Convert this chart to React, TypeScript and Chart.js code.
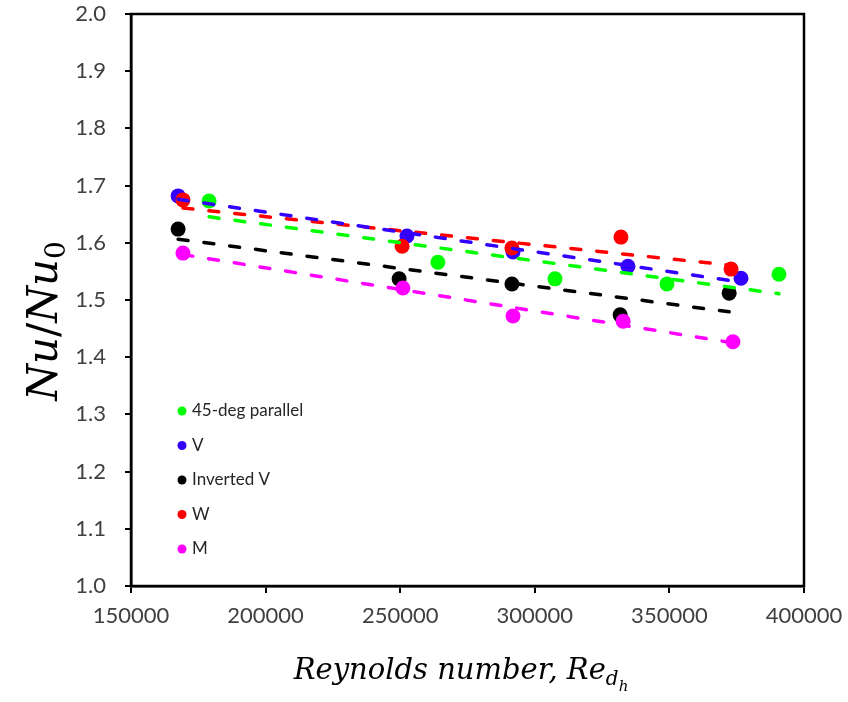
import { useEffect, useRef } from 'react';
import { Chart, registerables } from 'chart.js';

Chart.register(...registerables);

// Series labels (legend order) and colours
const seriesLabels = ['45-deg parallel', 'V', 'Inverted V', 'W', 'M'];
const seriesColors = ['#00FF00', '#3300FF', '#000000', '#FF0000', '#FF00FF'];

// Reynolds number (x) and Nu/Nu0 (y) for each rib arrangement
const reParallel = [179000, 264000, 307500, 349100, 390700];
const nuParallel = [1.673, 1.566, 1.537, 1.528, 1.545];

const reV = [167500, 252500, 291900, 334600, 376600];
const nuV = [1.682, 1.612, 1.584, 1.559, 1.538];

const reInvertedV = [167500, 249600, 291500, 331700, 372200];
const nuInvertedV = [1.624, 1.537, 1.528, 1.474, 1.512];

const reW = [169300, 250700, 291500, 332000, 372900];
const nuW = [1.675, 1.594, 1.591, 1.610, 1.554];

const reM = [169300, 251000, 291900, 332800, 373600];
const nuM = [1.582, 1.521, 1.472, 1.463, 1.427];

// Axis ticks
const xTicks = [150000, 200000, 250000, 300000, 350000, 400000];
const yTicks = [1.0, 1.1, 1.2, 1.3, 1.4, 1.5, 1.6, 1.7, 1.8, 1.9, 2.0];

const seriesRe = [reParallel, reV, reInvertedV, reW, reM];
const seriesNu = [nuParallel, nuV, nuInvertedV, nuW, nuM];

// Draw order of the markers: later series sit on top
const markerOrder = [5, 4, 3, 2, 1];

// Least-squares straight line through a series, spanning its Re range
function linearTrend(xs: number[], ys: number[]) {
  const n = xs.length;
  const mx = xs.reduce((a, b) => a + b, 0) / n;
  const my = ys.reduce((a, b) => a + b, 0) / n;
  let sxy = 0;
  let sxx = 0;
  for (let i = 0; i < n; i++) {
    sxy += (xs[i] - mx) * (ys[i] - my);
    sxx += (xs[i] - mx) * (xs[i] - mx);
  }
  const slope = sxy / sxx;
  const x0 = Math.min(...xs);
  const x1 = Math.max(...xs);
  return [
    { x: x0, y: my + slope * (x0 - mx) },
    { x: x1, y: my + slope * (x1 - mx) },
  ];
}

type Seg = { text: string; italic: boolean; size: number; dy: number };

function drawRich(ctx: CanvasRenderingContext2D, segs: Seg[], family: string) {
  const fontOf = (s: Seg) => `${s.italic ? 'italic ' : ''}${s.size}px ${family}`;
  let total = 0;
  for (const s of segs) {
    ctx.font = fontOf(s);
    total += ctx.measureText(s.text).width;
  }
  let x = -total / 2;
  ctx.textBaseline = 'alphabetic';
  ctx.textAlign = 'left';
  for (const s of segs) {
    ctx.font = fontOf(s);
    ctx.fillText(s.text, x, s.dy);
    x += ctx.measureText(s.text).width;
  }
}

// Frame around the plot, in-plot legend and the math-style axis titles
const decorations = {
  id: 'decorations',
  afterDraw(chart: any) {
    const { ctx, chartArea } = chart;
    const { left, right, top, bottom } = chartArea;
    ctx.save();
    ctx.strokeStyle = '#000';
    ctx.lineWidth = 2.5;
    ctx.strokeRect(left, top, right - left, bottom - top);

    // legend
    const lx = left + 51;
    const ly = top + 397;
    const step = 34.5;
    seriesLabels.forEach((label, i) => {
      const y = ly + i * step;
      ctx.beginPath();
      ctx.fillStyle = seriesColors[i];
      ctx.arc(lx, y, 4.5, 0, Math.PI * 2);
      ctx.fill();
      ctx.fillStyle = '#262626';
      ctx.font = '17px Lato';
      ctx.textBaseline = 'middle';
      ctx.textAlign = 'left';
      ctx.fillText(label, lx + 10, y);
    });

    const serif = '"DejaVu Serif", serif';
    ctx.fillStyle = '#000';

    // y title: Nu/Nu0
    ctx.save();
    ctx.translate(57, 321);
    ctx.rotate(-Math.PI / 2);
    drawRich(
      ctx,
      [
        { text: 'Nu', italic: true, size: 42, dy: 0 },
        { text: '/', italic: false, size: 42, dy: 0 },
        { text: 'Nu', italic: true, size: 42, dy: 0 },
        { text: '0', italic: false, size: 28, dy: 8 },
      ],
      serif
    );
    ctx.restore();

    // x title: Reynolds number, Re_dh
    ctx.save();
    ctx.translate(461, 679);
    drawRich(
      ctx,
      [
        { text: 'Reynolds number, Re', italic: true, size: 29, dy: 0 },
        { text: 'd', italic: true, size: 20, dy: 6 },
        { text: 'h', italic: true, size: 15, dy: 12 },
      ],
      serif
    );
    ctx.restore();
    ctx.restore();
  },
};

function zeroPadding(scale: any) {
  scale.paddingTop = 0;
  scale.paddingBottom = 0;
  scale.paddingLeft = 0;
  scale.paddingRight = 0;
}

export default function App() {
  const canvasRef = useRef<HTMLCanvasElement | null>(null);

  useEffect(() => {
    const canvas = canvasRef.current;
    if (!canvas) return;

    const markerSets = seriesLabels.map((label, i) => ({
      type: 'scatter' as const,
      label,
      data: seriesRe[i].map((x, k) => ({ x, y: seriesNu[i][k] })),
      backgroundColor: seriesColors[i],
      borderColor: seriesColors[i],
      borderWidth: 0,
      pointRadius: 7.5,
      pointHoverRadius: 7.5,
      showLine: false,
      order: markerOrder[i],
    }));

    const trendSets = seriesLabels.map((label, i) => ({
      type: 'line' as const,
      label: `${label} trend`,
      data: linearTrend(seriesRe[i], seriesNu[i]),
      borderColor: seriesColors[i],
      borderWidth: 3.5,
      borderDash: [10, 16],
      borderCapStyle: 'round' as const,
      pointRadius: 0,
      fill: false,
      order: 0,
    }));

    const tickFont = { family: 'Lato', size: 22 };

    const chart = new Chart(canvas, {
      type: 'scatter',
      data: { datasets: [...markerSets, ...trendSets] as any },
      options: {
        animation: false,
        responsive: false,
        devicePixelRatio: 1,
        layout: { padding: { left: 0, right: 44, top: 14, bottom: 0 } },
        plugins: {
          legend: { display: false },
          tooltip: { enabled: false },
          title: { display: false },
        },
        scales: {
          x: {
            type: 'linear',
            min: xTicks[0],
            max: xTicks[xTicks.length - 1],
            afterBuildTicks: (scale: any) => {
              scale.ticks = xTicks.map((v) => ({ value: v }));
            },
            afterFit: (scale: any) => {
              scale.height = 116;
              zeroPadding(scale);
            },
            ticks: {
              font: tickFont,
              color: '#404040',
              padding: 10,
              maxRotation: 0,
              autoSkip: false,
              callback: (v: any) => String(v),
            },
            grid: {
              drawOnChartArea: false,
              drawTicks: true,
              tickLength: 7,
              color: '#000',
              lineWidth: 2,
            },
            border: { display: true, color: '#000', width: 2.5 },
          },
          y: {
            type: 'linear',
            min: yTicks[0],
            max: yTicks[yTicks.length - 1],
            afterBuildTicks: (scale: any) => {
              scale.ticks = yTicks.map((v) => ({ value: v }));
            },
            afterFit: (scale: any) => {
              scale.width = 131;
              zeroPadding(scale);
            },
            ticks: {
              font: tickFont,
              color: '#404040',
              padding: 19,
              autoSkip: false,
              callback: (v: any) => Number(v).toFixed(1),
            },
            grid: {
              drawOnChartArea: false,
              drawTicks: true,
              tickLength: 6,
              color: '#000',
              lineWidth: 2,
            },
            border: { display: true, color: '#000', width: 2.5 },
          },
        },
      },
      plugins: [decorations],
    });

    return () => chart.destroy();
  }, []);

  return (
    <div style={{ position: 'fixed', left: 0, top: 0, width: 848, height: 702, background: '#fff' }}>
      <canvas ref={canvasRef} width={848} height={702} style={{ display: 'block' }} />
    </div>
  );
}
